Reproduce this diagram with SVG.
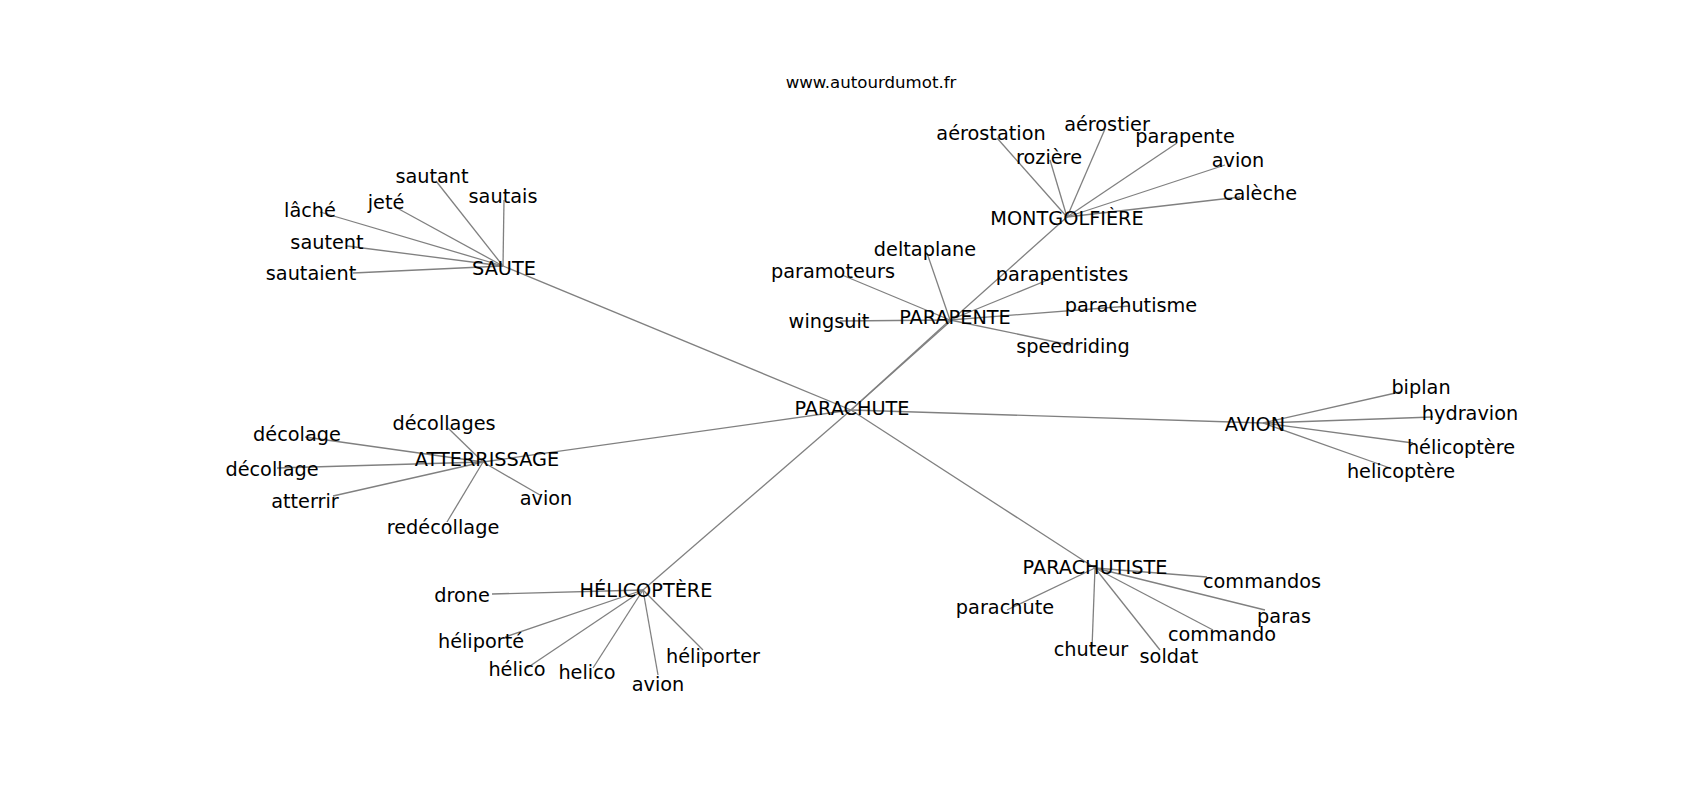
<svg xmlns="http://www.w3.org/2000/svg" width="1700" height="800" viewBox="0 0 1700 800">
<style>
.e{stroke:#808080;stroke-width:1.3;fill:none}
text{font-family:"DejaVu Sans","Liberation Sans",sans-serif;font-size:19.3px;fill:#000;text-anchor:middle}
.t{font-size:16.6px}
</style>
<rect width="1700" height="800" fill="#fff"/>
<text class="t" x="871" y="88">www.autourdumot.fr</text>
<g id="connectors">
<line class="e" x1="851" y1="410" x2="503" y2="266"/>
<line class="e" x1="851" y1="410" x2="950" y2="320"/>
<line class="e" x1="851" y1="410" x2="1067" y2="217"/>
<line class="e" x1="851" y1="410" x2="483" y2="462"/>
<line class="e" x1="851" y1="410" x2="1263" y2="423"/>
<line class="e" x1="851" y1="410" x2="643" y2="590"/>
<line class="e" x1="851" y1="410" x2="1095" y2="568"/>
<line class="e" x1="503" y1="266" x2="436" y2="181"/>
<line class="e" x1="503" y1="266" x2="504" y2="200"/>
<line class="e" x1="503" y1="266" x2="397" y2="208"/>
<line class="e" x1="503" y1="266" x2="320" y2="212"/>
<line class="e" x1="503" y1="266" x2="347" y2="246"/>
<line class="e" x1="503" y1="266" x2="353" y2="273"/>
<line class="e" x1="1067" y1="217" x2="997" y2="138"/>
<line class="e" x1="1067" y1="217" x2="1050" y2="160"/>
<line class="e" x1="1067" y1="217" x2="1105" y2="129"/>
<line class="e" x1="1067" y1="217" x2="1177" y2="143"/>
<line class="e" x1="1067" y1="217" x2="1225" y2="165"/>
<line class="e" x1="1067" y1="217" x2="1240" y2="197"/>
<line class="e" x1="950" y1="320" x2="927" y2="253"/>
<line class="e" x1="950" y1="320" x2="842" y2="275"/>
<line class="e" x1="950" y1="320" x2="1055" y2="277"/>
<line class="e" x1="950" y1="320" x2="1130" y2="306"/>
<line class="e" x1="950" y1="320" x2="1070" y2="345"/>
<line class="e" x1="950" y1="320" x2="840" y2="321"/>
<line class="e" x1="483" y1="462" x2="448" y2="428"/>
<line class="e" x1="483" y1="462" x2="305" y2="437"/>
<line class="e" x1="483" y1="462" x2="277" y2="468"/>
<line class="e" x1="483" y1="462" x2="333" y2="496"/>
<line class="e" x1="483" y1="462" x2="447" y2="522"/>
<line class="e" x1="483" y1="462" x2="540" y2="495"/>
<line class="e" x1="1263" y1="423" x2="1400" y2="392"/>
<line class="e" x1="1263" y1="423" x2="1433" y2="417"/>
<line class="e" x1="1263" y1="423" x2="1413" y2="443"/>
<line class="e" x1="1263" y1="423" x2="1390" y2="468"/>
<line class="e" x1="643" y1="590" x2="492" y2="594"/>
<line class="e" x1="643" y1="590" x2="505" y2="637"/>
<line class="e" x1="643" y1="590" x2="527" y2="668"/>
<line class="e" x1="643" y1="590" x2="593" y2="668"/>
<line class="e" x1="643" y1="590" x2="658" y2="675"/>
<line class="e" x1="643" y1="590" x2="703" y2="650"/>
<line class="e" x1="1095" y1="568" x2="1207" y2="577"/>
<line class="e" x1="1095" y1="568" x2="1007" y2="610"/>
<line class="e" x1="1095" y1="568" x2="1092" y2="648"/>
<line class="e" x1="1095" y1="568" x2="1160" y2="650"/>
<line class="e" x1="1095" y1="568" x2="1213" y2="630"/>
<line class="e" x1="1095" y1="568" x2="1265" y2="610"/>
</g>
<g id="n-parachute"><text x="852" y="415">PARACHUTE</text></g>
<g id="n-saute"><text x="504" y="275">SAUTE</text></g>
<g id="n-sautant"><text x="432" y="183">sautant</text></g>
<g id="n-sautais"><text x="503" y="203">sautais</text></g>
<g id="n-jete"><text x="386" y="209">jeté</text></g>
<g id="n-lache"><text x="310" y="217">lâché</text></g>
<g id="n-sautent"><text x="327" y="249">sautent</text></g>
<g id="n-sautaient"><text x="311" y="280">sautaient</text></g>
<g id="n-montgolfiere"><text x="1067" y="225">MONTGOLFIÈRE</text></g>
<g id="n-aerostation"><text x="991" y="140">aérostation</text></g>
<g id="n-roziere"><text x="1049" y="164">rozière</text></g>
<g id="n-aerostier"><text x="1107" y="131">aérostier</text></g>
<g id="n-parapente2"><text x="1185" y="143">parapente</text></g>
<g id="n-avion-m"><text x="1238" y="167">avion</text></g>
<g id="n-caleche"><text x="1260" y="200">calèche</text></g>
<g id="n-parapente"><text x="955" y="324">PARAPENTE</text></g>
<g id="n-deltaplane"><text x="925" y="256">deltaplane</text></g>
<g id="n-paramoteurs"><text x="833" y="278">paramoteurs</text></g>
<g id="n-parapentistes"><text x="1062" y="281">parapentistes</text></g>
<g id="n-parachutisme"><text x="1131" y="312">parachutisme</text></g>
<g id="n-speedriding"><text x="1073" y="353">speedriding</text></g>
<g id="n-wingsuit"><text x="829" y="328">wingsuit</text></g>
<g id="n-atterrissage"><text x="487" y="466">ATTERRISSAGE</text></g>
<g id="n-decollages"><text x="444" y="430">décollages</text></g>
<g id="n-decolage"><text x="297" y="441">décolage</text></g>
<g id="n-decollage"><text x="272" y="476">décollage</text></g>
<g id="n-atterrir"><text x="305" y="508">atterrir</text></g>
<g id="n-redecollage"><text x="443" y="534">redécollage</text></g>
<g id="n-avion-a"><text x="546" y="505">avion</text></g>
<g id="n-avion"><text x="1255" y="431">AVION</text></g>
<g id="n-biplan"><text x="1421" y="394">biplan</text></g>
<g id="n-hydravion"><text x="1470" y="420">hydravion</text></g>
<g id="n-helicoptere1"><text x="1461" y="454">hélicoptère</text></g>
<g id="n-helicoptere2"><text x="1401" y="478">helicoptère</text></g>
<g id="n-helicoptere"><text x="646" y="597">HÉLICOPTÈRE</text></g>
<g id="n-drone"><text x="462" y="602">drone</text></g>
<g id="n-heliporte"><text x="481" y="648">héliporté</text></g>
<g id="n-helico1"><text x="517" y="676">hélico</text></g>
<g id="n-helico2"><text x="587" y="679">helico</text></g>
<g id="n-avion-h"><text x="658" y="691">avion</text></g>
<g id="n-heliporter"><text x="713" y="663">héliporter</text></g>
<g id="n-parachutiste"><text x="1095" y="574">PARACHUTISTE</text></g>
<g id="n-commandos"><text x="1262" y="588">commandos</text></g>
<g id="n-parachute2"><text x="1005" y="614">parachute</text></g>
<g id="n-chuteur"><text x="1091" y="656">chuteur</text></g>
<g id="n-soldat"><text x="1169" y="663">soldat</text></g>
<g id="n-commando"><text x="1222" y="641">commando</text></g>
<g id="n-paras"><text x="1284" y="623">paras</text></g>
</svg>
